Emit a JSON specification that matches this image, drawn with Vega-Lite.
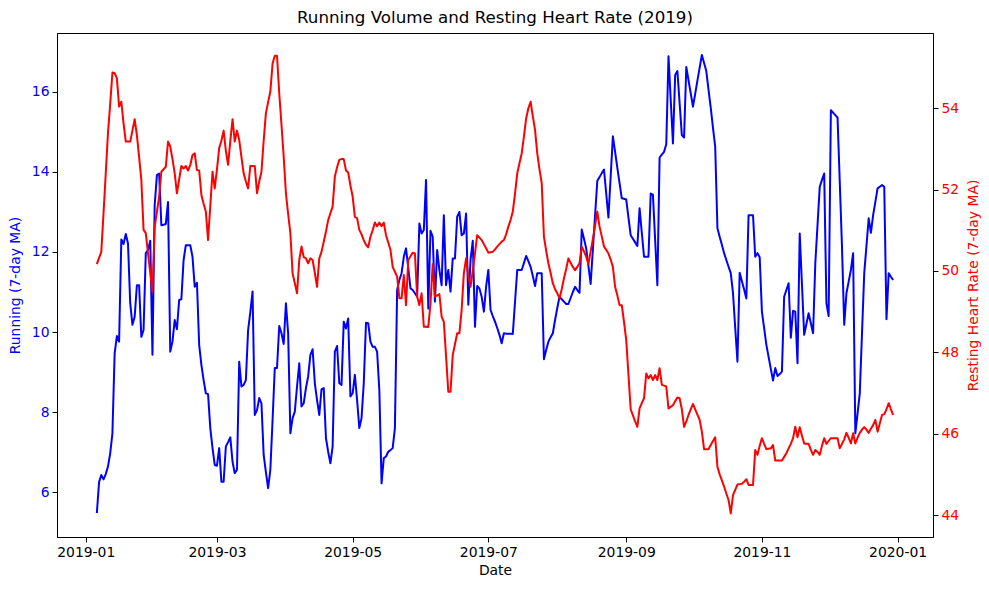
{
  "$schema": "https://vega.github.io/schema/vega-lite/v6.json",
  "description": "Running volume and resting heart rate, 7-day moving averages, 2019",
  "width": 876,
  "height": 504,
  "autosize": {"type": "none"},
  "padding": {"left": 57, "top": 33, "right": 56, "bottom": 53},
  "background": "white",
  "title": {
    "text": "Running Volume and Resting Heart Rate (2019)",
    "font": "DejaVu Sans",
    "fontSize": 16.7,
    "fontWeight": "normal",
    "color": "black",
    "offset": 6
  },
  "data": {
    "values": [
      {"date": "2019-01-06", "running": 5.48, "hr": 50.17},
      {"date": "2019-01-07", "running": 6.25, "hr": 50.32},
      {"date": "2019-01-08", "running": 6.43, "hr": 50.47},
      {"date": "2019-01-09", "running": 6.32, "hr": 51.42},
      {"date": "2019-01-10", "running": 6.45, "hr": 52.4},
      {"date": "2019-01-11", "running": 6.64, "hr": 53.39},
      {"date": "2019-01-12", "running": 6.97, "hr": 54.1},
      {"date": "2019-01-13", "running": 7.47, "hr": 54.88},
      {"date": "2019-01-14", "running": 9.47, "hr": 54.86},
      {"date": "2019-01-15", "running": 9.9, "hr": 54.74},
      {"date": "2019-01-16", "running": 9.76, "hr": 54.04},
      {"date": "2019-01-17", "running": 12.31, "hr": 54.16},
      {"date": "2019-01-18", "running": 12.2, "hr": 53.63},
      {"date": "2019-01-19", "running": 12.45, "hr": 53.18},
      {"date": "2019-01-20", "running": 12.21, "hr": 53.18},
      {"date": "2019-01-21", "running": 10.72, "hr": 53.18},
      {"date": "2019-01-22", "running": 10.18, "hr": 53.45},
      {"date": "2019-01-23", "running": 10.38, "hr": 53.73},
      {"date": "2019-01-24", "running": 11.17, "hr": 53.34},
      {"date": "2019-01-25", "running": 11.17, "hr": 52.8},
      {"date": "2019-01-26", "running": 9.88, "hr": 52.24},
      {"date": "2019-01-27", "running": 10.05, "hr": 51.01},
      {"date": "2019-01-28", "running": 11.97, "hr": 50.93},
      {"date": "2019-01-29", "running": 12.05, "hr": 50.43},
      {"date": "2019-01-30", "running": 12.28, "hr": 49.96},
      {"date": "2019-01-31", "running": 9.43, "hr": 49.49},
      {"date": "2019-02-01", "running": 13.17, "hr": 51.09},
      {"date": "2019-02-02", "running": 13.92, "hr": 51.45},
      {"date": "2019-02-03", "running": 13.96, "hr": 51.83},
      {"date": "2019-02-04", "running": 12.67, "hr": 52.44},
      {"date": "2019-02-05", "running": 12.68, "hr": 52.5},
      {"date": "2019-02-06", "running": 12.7, "hr": 52.56},
      {"date": "2019-02-07", "running": 13.25, "hr": 53.18},
      {"date": "2019-02-08", "running": 9.51, "hr": 53.06},
      {"date": "2019-02-09", "running": 9.76, "hr": 52.75},
      {"date": "2019-02-10", "running": 10.3, "hr": 52.4},
      {"date": "2019-02-11", "running": 10.07, "hr": 51.91},
      {"date": "2019-02-12", "running": 10.8, "hr": 52.25},
      {"date": "2019-02-13", "running": 10.82, "hr": 52.58},
      {"date": "2019-02-14", "running": 11.8, "hr": 52.52},
      {"date": "2019-02-15", "running": 12.17, "hr": 52.58},
      {"date": "2019-02-16", "running": 12.17, "hr": 52.47},
      {"date": "2019-02-17", "running": 12.17, "hr": 52.6},
      {"date": "2019-02-18", "running": 11.88, "hr": 52.85},
      {"date": "2019-02-19", "running": 11.13, "hr": 52.89},
      {"date": "2019-02-20", "running": 11.23, "hr": 52.48},
      {"date": "2019-02-21", "running": 9.68, "hr": 52.47},
      {"date": "2019-02-22", "running": 9.18, "hr": 51.87},
      {"date": "2019-02-23", "running": 8.8, "hr": 51.65},
      {"date": "2019-02-24", "running": 8.47, "hr": 51.46},
      {"date": "2019-02-25", "running": 8.45, "hr": 50.76},
      {"date": "2019-02-26", "running": 7.6, "hr": 51.6},
      {"date": "2019-02-27", "running": 7.1, "hr": 52.44},
      {"date": "2019-02-28", "running": 6.68, "hr": 52.03},
      {"date": "2019-03-01", "running": 6.66, "hr": 52.5},
      {"date": "2019-03-02", "running": 7.1, "hr": 53.02},
      {"date": "2019-03-03", "running": 6.26, "hr": 53.2},
      {"date": "2019-03-04", "running": 6.26, "hr": 53.45},
      {"date": "2019-03-05", "running": 7.14, "hr": 52.95},
      {"date": "2019-03-06", "running": 7.25, "hr": 52.61},
      {"date": "2019-03-07", "running": 7.37, "hr": 53.2},
      {"date": "2019-03-08", "running": 6.76, "hr": 53.73},
      {"date": "2019-03-09", "running": 6.47, "hr": 53.18},
      {"date": "2019-03-10", "running": 6.56, "hr": 53.45},
      {"date": "2019-03-11", "running": 9.26, "hr": 53.22},
      {"date": "2019-03-12", "running": 8.64, "hr": 52.8},
      {"date": "2019-03-13", "running": 8.68, "hr": 52.4},
      {"date": "2019-03-14", "running": 8.8, "hr": 52.2},
      {"date": "2019-03-15", "running": 10.05, "hr": 52.03},
      {"date": "2019-03-16", "running": 10.5, "hr": 52.58},
      {"date": "2019-03-17", "running": 11.01, "hr": 52.58},
      {"date": "2019-03-18", "running": 7.93, "hr": 52.58},
      {"date": "2019-03-19", "running": 8.05, "hr": 51.91},
      {"date": "2019-03-20", "running": 8.35, "hr": 52.2},
      {"date": "2019-03-21", "running": 8.22, "hr": 52.44},
      {"date": "2019-03-22", "running": 6.93, "hr": 53.2},
      {"date": "2019-03-23", "running": 6.5, "hr": 53.88},
      {"date": "2019-03-24", "running": 6.1, "hr": 54.15},
      {"date": "2019-03-25", "running": 6.56, "hr": 54.41},
      {"date": "2019-03-26", "running": 7.8, "hr": 55.1},
      {"date": "2019-03-27", "running": 9.1, "hr": 55.29},
      {"date": "2019-03-28", "running": 9.1, "hr": 55.29},
      {"date": "2019-03-29", "running": 10.15, "hr": 54.37},
      {"date": "2019-03-30", "running": 9.97, "hr": 53.6},
      {"date": "2019-03-31", "running": 9.7, "hr": 52.81},
      {"date": "2019-04-01", "running": 10.72, "hr": 51.91},
      {"date": "2019-04-02", "running": 9.97, "hr": 51.4},
      {"date": "2019-04-03", "running": 7.47, "hr": 50.93},
      {"date": "2019-04-04", "running": 7.85, "hr": 49.94},
      {"date": "2019-04-05", "running": 8.01, "hr": 49.7},
      {"date": "2019-04-06", "running": 8.64, "hr": 49.45},
      {"date": "2019-04-07", "running": 9.22, "hr": 50.27},
      {"date": "2019-04-08", "running": 8.14, "hr": 50.6},
      {"date": "2019-04-09", "running": 8.22, "hr": 50.34},
      {"date": "2019-04-10", "running": 8.6, "hr": 50.31},
      {"date": "2019-04-11", "running": 8.89, "hr": 50.19},
      {"date": "2019-04-12", "running": 9.43, "hr": 50.31},
      {"date": "2019-04-13", "running": 9.57, "hr": 50.27},
      {"date": "2019-04-14", "running": 8.72, "hr": 49.95},
      {"date": "2019-04-15", "running": 8.3, "hr": 49.61},
      {"date": "2019-04-16", "running": 7.93, "hr": 50.31},
      {"date": "2019-04-17", "running": 8.57, "hr": 50.47},
      {"date": "2019-04-18", "running": 8.6, "hr": 50.72},
      {"date": "2019-04-19", "running": 7.35, "hr": 50.97},
      {"date": "2019-04-20", "running": 7.01, "hr": 51.25},
      {"date": "2019-04-21", "running": 6.72, "hr": 51.42},
      {"date": "2019-04-22", "running": 7.14, "hr": 51.58},
      {"date": "2019-04-23", "running": 9.51, "hr": 52.32},
      {"date": "2019-04-24", "running": 9.65, "hr": 52.55},
      {"date": "2019-04-25", "running": 8.72, "hr": 52.73},
      {"date": "2019-04-26", "running": 8.68, "hr": 52.75},
      {"date": "2019-04-27", "running": 10.26, "hr": 52.75},
      {"date": "2019-04-28", "running": 10.09, "hr": 52.47},
      {"date": "2019-04-29", "running": 10.34, "hr": 52.42},
      {"date": "2019-04-30", "running": 8.39, "hr": 52.1},
      {"date": "2019-05-01", "running": 8.47, "hr": 51.83},
      {"date": "2019-05-02", "running": 8.93, "hr": 51.33},
      {"date": "2019-05-03", "running": 8.3, "hr": 51.3},
      {"date": "2019-05-04", "running": 7.6, "hr": 51.01},
      {"date": "2019-05-05", "running": 7.85, "hr": 50.9},
      {"date": "2019-05-06", "running": 8.72, "hr": 50.76},
      {"date": "2019-05-07", "running": 10.23, "hr": 50.64},
      {"date": "2019-05-08", "running": 10.22, "hr": 50.58},
      {"date": "2019-05-09", "running": 9.76, "hr": 50.84},
      {"date": "2019-05-10", "running": 9.63, "hr": 51.0},
      {"date": "2019-05-11", "running": 9.63, "hr": 51.19},
      {"date": "2019-05-12", "running": 9.51, "hr": 51.1},
      {"date": "2019-05-13", "running": 8.55, "hr": 51.19},
      {"date": "2019-05-14", "running": 6.22, "hr": 51.1},
      {"date": "2019-05-15", "running": 6.85, "hr": 51.19},
      {"date": "2019-05-16", "running": 6.89, "hr": 50.88},
      {"date": "2019-05-17", "running": 7.01, "hr": 50.7},
      {"date": "2019-05-18", "running": 7.05, "hr": 50.52},
      {"date": "2019-05-19", "running": 7.1, "hr": 50.1},
      {"date": "2019-05-20", "running": 7.6, "hr": 49.98},
      {"date": "2019-05-21", "running": 11.05, "hr": 49.86},
      {"date": "2019-05-22", "running": 11.3, "hr": 49.33},
      {"date": "2019-05-23", "running": 11.47, "hr": 49.33},
      {"date": "2019-05-24", "running": 11.88, "hr": 49.9},
      {"date": "2019-05-25", "running": 12.09, "hr": 49.16},
      {"date": "2019-05-26", "running": 11.6, "hr": 50.27},
      {"date": "2019-05-27", "running": 11.09, "hr": 50.36},
      {"date": "2019-05-28", "running": 11.05, "hr": 50.45},
      {"date": "2019-05-29", "running": 10.97, "hr": 50.43},
      {"date": "2019-05-30", "running": 10.88, "hr": 49.37},
      {"date": "2019-05-31", "running": 12.71, "hr": 49.16},
      {"date": "2019-06-01", "running": 12.46, "hr": 49.45},
      {"date": "2019-06-02", "running": 12.55, "hr": 48.63},
      {"date": "2019-06-03", "running": 13.8, "hr": 48.63},
      {"date": "2019-06-04", "running": 10.59, "hr": 48.62},
      {"date": "2019-06-05", "running": 12.53, "hr": 49.2},
      {"date": "2019-06-06", "running": 12.38, "hr": 50.17},
      {"date": "2019-06-07", "running": 10.76, "hr": 49.37},
      {"date": "2019-06-08", "running": 12.05, "hr": 49.4},
      {"date": "2019-06-09", "running": 11.55, "hr": 49.43},
      {"date": "2019-06-10", "running": 11.17, "hr": 48.88},
      {"date": "2019-06-11", "running": 12.92, "hr": 48.75},
      {"date": "2019-06-12", "running": 11.17, "hr": 47.9},
      {"date": "2019-06-13", "running": 11.55, "hr": 47.03},
      {"date": "2019-06-14", "running": 11.01, "hr": 47.03},
      {"date": "2019-06-15", "running": 11.84, "hr": 47.93},
      {"date": "2019-06-16", "running": 11.84, "hr": 48.2},
      {"date": "2019-06-17", "running": 12.88, "hr": 48.47},
      {"date": "2019-06-18", "running": 13.0, "hr": 48.47},
      {"date": "2019-06-19", "running": 12.42, "hr": 49.04},
      {"date": "2019-06-20", "running": 12.46, "hr": 49.94},
      {"date": "2019-06-21", "running": 12.96, "hr": 50.31},
      {"date": "2019-06-22", "running": 10.68, "hr": 49.86},
      {"date": "2019-06-23", "running": 11.8, "hr": 49.61},
      {"date": "2019-06-24", "running": 12.28, "hr": 50.0},
      {"date": "2019-06-25", "running": 10.13, "hr": 50.43},
      {"date": "2019-06-26", "running": 11.15, "hr": 50.88},
      {"date": "2019-06-27", "running": 11.09, "hr": 50.82},
      {"date": "2019-06-28", "running": 10.88, "hr": 50.76},
      {"date": "2019-06-29", "running": 10.51, "hr": 50.66},
      {"date": "2019-06-30", "running": 11.13, "hr": 50.56},
      {"date": "2019-07-01", "running": 11.55, "hr": 50.45},
      {"date": "2019-07-02", "running": 10.55, "hr": 50.46},
      {"date": "2019-07-03", "running": 10.4, "hr": 50.47},
      {"date": "2019-07-04", "running": 10.26, "hr": 50.53},
      {"date": "2019-07-05", "running": 10.1, "hr": 50.6},
      {"date": "2019-07-06", "running": 9.93, "hr": 50.66},
      {"date": "2019-07-07", "running": 9.72, "hr": 50.72},
      {"date": "2019-07-08", "running": 9.97, "hr": 50.76},
      {"date": "2019-07-09", "running": 9.96, "hr": 50.9},
      {"date": "2019-07-10", "running": 9.96, "hr": 51.09},
      {"date": "2019-07-11", "running": 9.96, "hr": 51.25},
      {"date": "2019-07-12", "running": 9.95, "hr": 51.46},
      {"date": "2019-07-13", "running": 10.75, "hr": 51.9},
      {"date": "2019-07-14", "running": 11.55, "hr": 52.4},
      {"date": "2019-07-15", "running": 11.55, "hr": 52.65},
      {"date": "2019-07-16", "running": 11.55, "hr": 52.89},
      {"date": "2019-07-17", "running": 11.72, "hr": 53.3},
      {"date": "2019-07-18", "running": 11.9, "hr": 53.75},
      {"date": "2019-07-19", "running": 11.77, "hr": 54.0},
      {"date": "2019-07-20", "running": 11.63, "hr": 54.16},
      {"date": "2019-07-21", "running": 11.4, "hr": 53.8},
      {"date": "2019-07-22", "running": 11.15, "hr": 53.47},
      {"date": "2019-07-23", "running": 11.47, "hr": 52.89},
      {"date": "2019-07-24", "running": 11.47, "hr": 52.5},
      {"date": "2019-07-25", "running": 11.47, "hr": 52.16},
      {"date": "2019-07-26", "running": 9.32, "hr": 50.84},
      {"date": "2019-07-27", "running": 9.55, "hr": 50.5},
      {"date": "2019-07-28", "running": 9.76, "hr": 50.19},
      {"date": "2019-07-29", "running": 9.87, "hr": 49.95},
      {"date": "2019-07-30", "running": 9.97, "hr": 49.7},
      {"date": "2019-07-31", "running": 10.3, "hr": 49.55},
      {"date": "2019-08-01", "running": 10.6, "hr": 49.45},
      {"date": "2019-08-02", "running": 10.88, "hr": 49.33},
      {"date": "2019-08-03", "running": 10.82, "hr": 49.55},
      {"date": "2019-08-04", "running": 10.76, "hr": 49.82},
      {"date": "2019-08-05", "running": 10.7, "hr": 50.05},
      {"date": "2019-08-06", "running": 10.7, "hr": 50.31},
      {"date": "2019-08-07", "running": 10.85, "hr": 50.2},
      {"date": "2019-08-08", "running": 11.0, "hr": 50.1},
      {"date": "2019-08-09", "running": 11.13, "hr": 50.02},
      {"date": "2019-08-10", "running": 11.05, "hr": 50.1},
      {"date": "2019-08-11", "running": 10.98, "hr": 50.19},
      {"date": "2019-08-12", "running": 12.56, "hr": 50.6},
      {"date": "2019-08-13", "running": 12.33, "hr": 50.48},
      {"date": "2019-08-14", "running": 12.09, "hr": 50.35},
      {"date": "2019-08-15", "running": 11.65, "hr": 50.17},
      {"date": "2019-08-16", "running": 11.2, "hr": 50.48},
      {"date": "2019-08-17", "running": 12.06, "hr": 50.78},
      {"date": "2019-08-18", "running": 12.92, "hr": 51.12},
      {"date": "2019-08-19", "running": 13.78, "hr": 51.46},
      {"date": "2019-08-20", "running": 13.87, "hr": 51.09},
      {"date": "2019-08-21", "running": 13.97, "hr": 50.85},
      {"date": "2019-08-22", "running": 14.06, "hr": 50.6},
      {"date": "2019-08-23", "running": 13.46, "hr": 50.52},
      {"date": "2019-08-24", "running": 12.86, "hr": 50.43},
      {"date": "2019-08-25", "running": 13.88, "hr": 50.28},
      {"date": "2019-08-26", "running": 14.89, "hr": 50.1},
      {"date": "2019-08-27", "running": 14.5, "hr": 49.61},
      {"date": "2019-08-28", "running": 14.1, "hr": 49.4},
      {"date": "2019-08-29", "running": 13.72, "hr": 49.16},
      {"date": "2019-08-30", "running": 13.34, "hr": 49.16},
      {"date": "2019-08-31", "running": 13.33, "hr": 48.75},
      {"date": "2019-09-01", "running": 13.31, "hr": 48.3},
      {"date": "2019-09-02", "running": 12.86, "hr": 47.45},
      {"date": "2019-09-03", "running": 12.42, "hr": 46.6},
      {"date": "2019-09-04", "running": 12.33, "hr": 46.45},
      {"date": "2019-09-05", "running": 12.24, "hr": 46.3},
      {"date": "2019-09-06", "running": 12.15, "hr": 46.17},
      {"date": "2019-09-07", "running": 13.09, "hr": 46.62},
      {"date": "2019-09-08", "running": 12.48, "hr": 46.75},
      {"date": "2019-09-09", "running": 11.88, "hr": 46.87},
      {"date": "2019-09-10", "running": 11.88, "hr": 47.48},
      {"date": "2019-09-11", "running": 11.88, "hr": 47.36},
      {"date": "2019-09-12", "running": 13.46, "hr": 47.44},
      {"date": "2019-09-13", "running": 13.43, "hr": 47.32},
      {"date": "2019-09-14", "running": 12.3, "hr": 47.44},
      {"date": "2019-09-15", "running": 11.17, "hr": 47.32},
      {"date": "2019-09-16", "running": 14.36, "hr": 47.61},
      {"date": "2019-09-17", "running": 14.43, "hr": 47.2},
      {"date": "2019-09-18", "running": 14.5, "hr": 47.18},
      {"date": "2019-09-19", "running": 14.69, "hr": 47.16},
      {"date": "2019-09-20", "running": 16.89, "hr": 46.62},
      {"date": "2019-09-21", "running": 15.8, "hr": 46.66},
      {"date": "2019-09-22", "running": 14.71, "hr": 46.7},
      {"date": "2019-09-23", "running": 16.42, "hr": 46.8},
      {"date": "2019-09-24", "running": 16.52, "hr": 46.89},
      {"date": "2019-09-25", "running": 15.72, "hr": 46.87},
      {"date": "2019-09-26", "running": 14.92, "hr": 46.6},
      {"date": "2019-09-27", "running": 14.86, "hr": 46.17},
      {"date": "2019-09-28", "running": 16.62, "hr": 46.3},
      {"date": "2019-09-29", "running": 16.29, "hr": 46.46},
      {"date": "2019-09-30", "running": 15.96, "hr": 46.6},
      {"date": "2019-10-01", "running": 15.63, "hr": 46.73},
      {"date": "2019-10-02", "running": 15.95, "hr": 46.6},
      {"date": "2019-10-03", "running": 16.28, "hr": 46.47},
      {"date": "2019-10-04", "running": 16.6, "hr": 46.34},
      {"date": "2019-10-05", "running": 16.92, "hr": 46.05},
      {"date": "2019-10-06", "running": 16.72, "hr": 45.62},
      {"date": "2019-10-07", "running": 16.52, "hr": 45.62},
      {"date": "2019-10-08", "running": 16.05, "hr": 45.62},
      {"date": "2019-10-09", "running": 15.6, "hr": 45.72},
      {"date": "2019-10-10", "running": 15.1, "hr": 45.82},
      {"date": "2019-10-11", "running": 14.63, "hr": 45.91},
      {"date": "2019-10-12", "running": 12.59, "hr": 45.19},
      {"date": "2019-10-13", "running": 12.38, "hr": 45.0},
      {"date": "2019-10-14", "running": 12.18, "hr": 44.85},
      {"date": "2019-10-15", "running": 11.97, "hr": 44.7},
      {"date": "2019-10-16", "running": 11.8, "hr": 44.53},
      {"date": "2019-10-17", "running": 11.63, "hr": 44.37},
      {"date": "2019-10-18", "running": 11.47, "hr": 44.04},
      {"date": "2019-10-19", "running": 10.97, "hr": 44.49},
      {"date": "2019-10-20", "running": 10.1, "hr": 44.62},
      {"date": "2019-10-21", "running": 9.26, "hr": 44.75},
      {"date": "2019-10-22", "running": 11.48, "hr": 44.76},
      {"date": "2019-10-23", "running": 11.27, "hr": 44.77},
      {"date": "2019-10-24", "running": 11.06, "hr": 44.82},
      {"date": "2019-10-25", "running": 10.84, "hr": 44.88},
      {"date": "2019-10-26", "running": 12.92, "hr": 44.74},
      {"date": "2019-10-27", "running": 12.92, "hr": 44.74},
      {"date": "2019-10-28", "running": 12.92, "hr": 44.74},
      {"date": "2019-10-29", "running": 11.88, "hr": 45.6},
      {"date": "2019-10-30", "running": 11.97, "hr": 45.48},
      {"date": "2019-10-31", "running": 11.87, "hr": 45.7},
      {"date": "2019-11-01", "running": 10.51, "hr": 45.89},
      {"date": "2019-11-02", "running": 10.1, "hr": 45.75},
      {"date": "2019-11-03", "running": 9.68, "hr": 45.62},
      {"date": "2019-11-04", "running": 9.38, "hr": 45.63},
      {"date": "2019-11-05", "running": 9.08, "hr": 45.64},
      {"date": "2019-11-06", "running": 8.79, "hr": 45.72},
      {"date": "2019-11-07", "running": 9.1, "hr": 45.34},
      {"date": "2019-11-08", "running": 8.9, "hr": 45.34},
      {"date": "2019-11-09", "running": 8.95, "hr": 45.34},
      {"date": "2019-11-10", "running": 9.01, "hr": 45.34},
      {"date": "2019-11-11", "running": 10.88, "hr": 45.43},
      {"date": "2019-11-12", "running": 11.05, "hr": 45.52},
      {"date": "2019-11-13", "running": 11.22, "hr": 45.64},
      {"date": "2019-11-14", "running": 9.86, "hr": 45.75},
      {"date": "2019-11-15", "running": 10.53, "hr": 45.89},
      {"date": "2019-11-16", "running": 10.51, "hr": 46.17},
      {"date": "2019-11-17", "running": 9.22, "hr": 45.91},
      {"date": "2019-11-18", "running": 12.46, "hr": 46.16},
      {"date": "2019-11-19", "running": 11.2, "hr": 45.95},
      {"date": "2019-11-20", "running": 9.93, "hr": 45.76},
      {"date": "2019-11-21", "running": 10.2, "hr": 45.75},
      {"date": "2019-11-22", "running": 10.47, "hr": 45.75},
      {"date": "2019-11-23", "running": 10.22, "hr": 45.6},
      {"date": "2019-11-24", "running": 9.97, "hr": 45.48},
      {"date": "2019-11-25", "running": 11.72, "hr": 45.6},
      {"date": "2019-11-26", "running": 12.67, "hr": 45.55},
      {"date": "2019-11-27", "running": 13.63, "hr": 45.48},
      {"date": "2019-11-28", "running": 13.8, "hr": 45.7},
      {"date": "2019-11-29", "running": 13.96, "hr": 45.89},
      {"date": "2019-11-30", "running": 10.72, "hr": 45.75},
      {"date": "2019-12-01", "running": 10.4, "hr": 45.82},
      {"date": "2019-12-02", "running": 15.54, "hr": 45.89},
      {"date": "2019-12-03", "running": 15.48, "hr": 45.89},
      {"date": "2019-12-04", "running": 15.42, "hr": 45.89},
      {"date": "2019-12-05", "running": 15.36, "hr": 45.89},
      {"date": "2019-12-06", "running": 13.75, "hr": 45.64},
      {"date": "2019-12-07", "running": 12.13, "hr": 45.75},
      {"date": "2019-12-08", "running": 10.18, "hr": 45.86},
      {"date": "2019-12-09", "running": 10.97, "hr": 46.02},
      {"date": "2019-12-10", "running": 11.26, "hr": 45.9},
      {"date": "2019-12-11", "running": 11.55, "hr": 45.76},
      {"date": "2019-12-12", "running": 11.97, "hr": 46.01},
      {"date": "2019-12-13", "running": 7.47, "hr": 45.76},
      {"date": "2019-12-14", "running": 7.97, "hr": 45.9},
      {"date": "2019-12-15", "running": 8.47, "hr": 46.02},
      {"date": "2019-12-16", "running": 9.97, "hr": 46.1},
      {"date": "2019-12-17", "running": 11.47, "hr": 46.16},
      {"date": "2019-12-18", "running": 12.15, "hr": 46.1},
      {"date": "2019-12-19", "running": 12.84, "hr": 46.02},
      {"date": "2019-12-20", "running": 12.48, "hr": 46.12},
      {"date": "2019-12-21", "running": 12.92, "hr": 46.21},
      {"date": "2019-12-22", "running": 13.25, "hr": 46.34},
      {"date": "2019-12-23", "running": 13.59, "hr": 46.05},
      {"date": "2019-12-24", "running": 13.63, "hr": 46.25},
      {"date": "2019-12-25", "running": 13.67, "hr": 46.46},
      {"date": "2019-12-26", "running": 13.63, "hr": 46.48},
      {"date": "2019-12-27", "running": 10.32, "hr": 46.6},
      {"date": "2019-12-28", "running": 11.47, "hr": 46.75},
      {"date": "2019-12-29", "running": 11.38, "hr": 46.6},
      {"date": "2019-12-30", "running": 11.3, "hr": 46.46}
    ]
  },
  "encoding": {
    "x": {
      "field": "date",
      "type": "temporal",
      "title": "Date",
      "scale": {
        "type": "utc",
        "domain": [
          {"year": 2018, "month": 12, "date": 19, "hours": 2, "utc": true},
          {"year": 2020, "month": 1, "date": 16, "hours": 22, "utc": true}
        ]
      },
      "axis": {
        "format": "%Y-%m",
        "values": [
          {"year": 2019, "month": 1, "date": 1, "utc": true},
          {"year": 2019, "month": 3, "date": 1, "utc": true},
          {"year": 2019, "month": 5, "date": 1, "utc": true},
          {"year": 2019, "month": 7, "date": 1, "utc": true},
          {"year": 2019, "month": 9, "date": 1, "utc": true},
          {"year": 2019, "month": 11, "date": 1, "utc": true},
          {"year": 2020, "month": 1, "date": 1, "utc": true}
        ],
        "labelFlush": false,
        "labelOverlap": false,
        "labelPadding": 3,
        "titlePadding": 5
      }
    }
  },
  "layer": [
    {
      "mark": {"type": "line", "color": "blue", "strokeWidth": 2, "strokeJoin": "round"},
      "encoding": {
        "y": {
          "field": "running",
          "type": "quantitative",
          "title": "Running (7-day MA)",
          "scale": {"domain": [4.88, 17.47], "nice": false, "zero": false},
          "axis": {
            "orient": "left",
            "values": [6, 8, 10, 12, 14, 16],
            "labelColor": "blue",
            "titleColor": "blue",
            "labelPadding": 3,
            "titlePadding": 9
          }
        }
      }
    },
    {
      "mark": {"type": "line", "color": "red", "strokeWidth": 2, "strokeJoin": "round"},
      "encoding": {
        "y": {
          "field": "hr",
          "type": "quantitative",
          "title": "Resting Heart Rate (7-day MA)",
          "scale": {"domain": [43.46, 55.85], "nice": false, "zero": false},
          "axis": {
            "orient": "right",
            "values": [44, 46, 48, 50, 52, 54],
            "labelColor": "red",
            "titleColor": "red",
            "labelPadding": 3,
            "titleAngle": 270,
            "titleBaseline": "top",
            "titlePadding": 8
          }
        }
      }
    }
  ],
  "resolve": {"scale": {"y": "independent"}},
  "config": {
    "view": {"stroke": "black", "strokeWidth": 1},
    "axis": {
      "grid": false,
      "labelFont": "DejaVu Sans",
      "titleFont": "DejaVu Sans",
      "labelFontSize": 13.9,
      "titleFontSize": 13.9,
      "titleFontWeight": "normal",
      "labelColor": "black",
      "titleColor": "black",
      "tickColor": "black",
      "domainColor": "black",
      "tickSize": 5,
      "tickWidth": 1,
      "domainWidth": 1
    }
  }
}
